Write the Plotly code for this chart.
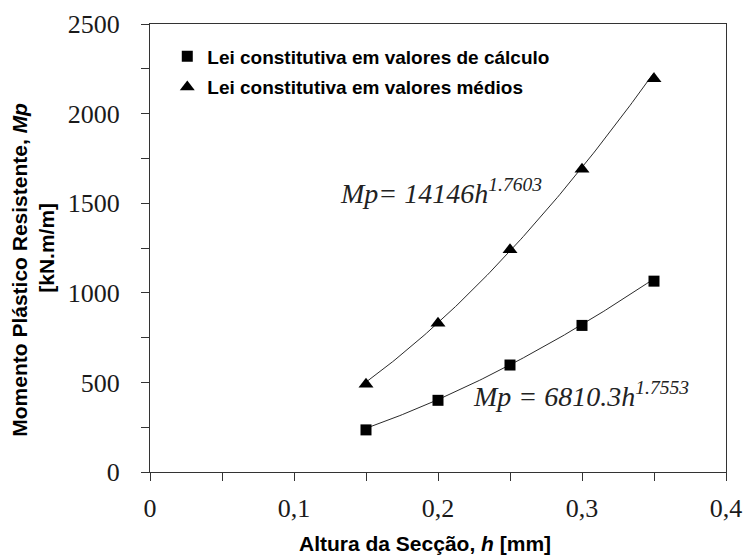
import numpy as np
import plotly.graph_objects as go

# Section height h [mm]
h = [0.15, 0.20, 0.25, 0.30, 0.35]
# Plastic resisting moment [kN.m/m]
mp_calculo = [235, 400, 597, 818, 1065]   # design values
mp_medios = [490, 830, 1240, 1690, 2195]  # mean values

# Power-law fits Mp = a * h^b
fit_calculo = (6810.3, 1.7553)
fit_medios = (14146.0, 1.7603)

serif = "Liberation Serif, Times New Roman, serif"
sans = "Liberation Sans, Arial, sans-serif"
ink = "#1a1a1a"

h_fit = np.linspace(min(h), max(h), 120)

fig = go.Figure()

for (a, b) in (fit_calculo, fit_medios):
    fig.add_trace(go.Scatter(
        x=h_fit, y=a * h_fit ** b, mode="lines",
        line=dict(color="#2a2a2a", width=1), showlegend=False, hoverinfo="skip"))

fig.add_trace(go.Scatter(
    x=h, y=mp_calculo, mode="markers", name="Lei constitutiva em valores de cálculo",
    marker=dict(symbol="square", size=11, color="black"), legendgroup="a"))
fig.add_trace(go.Scatter(
    x=h, y=mp_medios, mode="markers", name="Lei constitutiva em valores médios",
    marker=dict(symbol="triangle-up", size=13, color="black"), legendgroup="b"))

axis_common = dict(showgrid=False, zeroline=False, automargin=False,
                   showline=True, linecolor="#333", linewidth=1, mirror=True,
                   ticks="outside", ticklen=8, tickcolor="#333",
                   tickfont=dict(family=serif, size=26, color=ink))

fig.update_layout(
    width=747, height=555,
    margin=dict(l=150, r=21, t=24, b=83),
    paper_bgcolor="white", plot_bgcolor="white",
    separators=",.",
    showlegend=True,
    legend=dict(x=0.03, y=0.97, xanchor="left", yanchor="top",
                font=dict(family=sans, size=19, color="black", weight="bold"),
                bgcolor="rgba(0,0,0,0)", tracegroupgap=3, itemwidth=30),
    xaxis=dict(range=[0, 0.4], dtick=0.1, tick0=0,
               minor=dict(dtick=0.05, ticks="outside", ticklen=8, tickcolor="#333"),
               ticklabelstandoff=5, **axis_common),
    yaxis=dict(range=[0, 2500], dtick=500, tick0=0,
               minor=dict(dtick=250, ticks="outside", ticklen=8, tickcolor="#333"),
               ticklabelstandoff=16, **axis_common),
)

# Axis titles
fig.add_annotation(xref="paper", yref="paper", x=0.478, y=-0.16,
                   xanchor="center", yanchor="middle",
                   text="Altura da Secção, <i>h</i> [mm]", showarrow=False,
                   font=dict(family=sans, size=21, color="black", weight="bold"))
fig.add_annotation(xref="paper", yref="paper", x=-0.226, y=0.451, textangle=-90,
                   xanchor="center", yanchor="middle",
                   text="Momento Plástico Resistente, <i>Mp</i>", showarrow=False,
                   font=dict(family=sans, size=21, color="black", weight="bold"))
fig.add_annotation(xref="paper", yref="paper", x=-0.181, y=0.5, textangle=-90,
                   xanchor="center", yanchor="middle",
                   text="[kN.m/m]", showarrow=False,
                   font=dict(family=sans, size=21, color="black", weight="bold"))

# Fit equations
fig.add_annotation(xref="paper", yref="paper", x=0.326, y=0.626,
                   xanchor="left", yanchor="middle",
                   text=f"<i>Mp= {fit_medios[0]:.0f}h<sup>{fit_medios[1]}</sup></i>",
                   showarrow=False, font=dict(family=serif, size=28, color="#222"))
fig.add_annotation(xref="paper", yref="paper", x=0.558, y=0.172,
                   xanchor="left", yanchor="middle",
                   text=f"<i>Mp = {fit_calculo[0]}h<sup>{fit_calculo[1]}</sup></i>",
                   showarrow=False, font=dict(family=serif, size=28, color="#222"))

fig.write_html("out.html")
